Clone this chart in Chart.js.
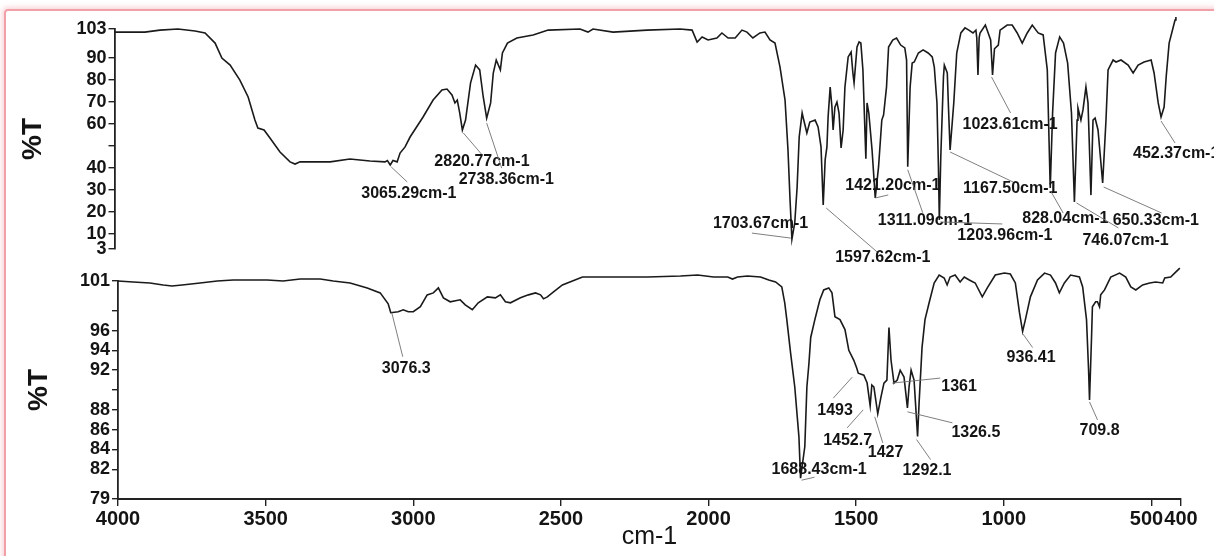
<!DOCTYPE html>
<html>
<head>
<meta charset="utf-8">
<script src="https://cdn.jsdelivr.net/npm/chart.js@4.4.1/dist/chart.umd.min.js"></script>
<style>
  html, body { margin: 0; padding: 0; background: #fff; }
  #page { position: relative; width: 1214px; height: 556px; overflow: hidden; background: #fff; }
  #frame { position: absolute; left: 4px; top: 9px; width: 1224px; height: 570px;
           border: 2px solid #f2a0a7; border-radius: 4px;
           box-shadow: 0 0 5px 2px rgba(240, 160, 170, 0.45); }
  #topChart { position: absolute; left: 0; top: 0; width: 1214px; height: 262px; }
  #bottomChart { position: absolute; left: 0; top: 262px; width: 1214px; height: 294px; }
</style>
</head>
<body>
<div id="page">
  <div id="frame"></div>
  <canvas id="topChart" width="1214" height="262"></canvas>
  <canvas id="bottomChart" width="1214" height="294"></canvas>
</div>
<script>
// ---- upper spectrum (wavenumber in cm-1, transmittance in %T) ----
const topWavenumber = [
  4000, 3897, 3846, 3785, 3727, 3693, 3659, 3636, 3608, 3575, 3547, 3524, 3514, 3493, 3473, 3439,
  3405, 3388, 3371, 3269, 3202, 3134, 3083, 3075, 3065.29, 3056, 3042, 3032, 3015, 2998, 2954, 2920,
  2890, 2873, 2856, 2846, 2838, 2830, 2820.77, 2810, 2793, 2776, 2762, 2750, 2738.36, 2725, 2716, 2706,
  2692, 2685, 2668, 2636, 2581, 2530, 2422, 2395, 2378, 2310, 2195, 2083, 2042, 2025, 2008, 1988,
  1958, 1941, 1920, 1896, 1873, 1856, 1836, 1812, 1795, 1778, 1761, 1744, 1727, 1717, 1710, 1703.67,
  1694, 1686, 1679, 1669, 1666, 1653, 1643, 1625, 1615, 1605, 1597.62, 1591, 1585, 1581, 1574, 1568,
  1564, 1558, 1551, 1544, 1537, 1530, 1524, 1513, 1503, 1497, 1493, 1483, 1476, 1470, 1463, 1453,
  1449, 1443, 1432, 1421.2, 1410, 1399, 1393, 1383, 1376, 1362, 1349, 1335, 1321, 1315, 1311.09, 1303,
  1296, 1289, 1275, 1259, 1242, 1228, 1221, 1212, 1207, 1203.96, 1199, 1190, 1187, 1177, 1173, 1167.5,
  1155, 1145, 1131, 1117, 1104, 1090, 1080, 1077, 1073, 1069, 1066, 1048, 1030, 1023.61, 1017, 1004,
  998, 974, 957, 940, 923, 906, 889, 869, 852, 838, 828.04, 820, 810, 796, 783, 769,
  756, 746.07, 737, 734, 724, 717, 707, 700, 690, 683, 676, 666, 650.33, 639, 632, 615,
  605, 588, 564, 547, 530, 510, 486, 476, 462, 452.37, 442, 435, 425, 411, 405, 402
];
const topTransmittance = [
  101.6, 101.6, 102.5, 103, 102.1, 101.2, 96.6, 89.8, 86.6, 79.8, 72.1, 61.6, 58.0, 57.1, 53.5, 47.1,
  42.6, 41.6, 42.6, 42.6, 43.9, 43.0, 42.6, 43.2, 41.2, 43.2, 42.6, 46.6, 49.4, 53.9, 63, 70.7,
  75.3, 75.7, 73, 69.4, 70.7, 65, 57.1, 61.6, 78.5, 86.6, 84.4, 72.1, 62.5, 69.4, 83, 88.9,
  84.4, 92.1, 96.6, 98.9, 100.3, 102.5, 103, 101.6, 103, 101.6, 102.5, 103, 102.5, 97.1, 99.4, 98,
  98.9, 101.2, 98.9, 98.9, 102.5, 101.6, 98.9, 101.2, 101.6, 98, 96.6, 85.7, 70.7, 48, 25.3, 7.5,
  15, 31.2, 53.9, 64.8, 63, 55.7, 60.7, 61.6, 58.5, 49.4, 23, 43.5, 49.4, 63, 76.6, 67.5,
  57.1, 67.5, 69.8, 64.8, 48.9, 57.1, 76.6, 90.3, 92.5, 83, 78.5, 94.8, 97.1, 96.6, 84.4, 44,
  69.4, 64.8, 48, 26.2, 40.3, 61.6, 63.9, 76.6, 94.8, 98, 98.9, 95.7, 94.4, 88.9, 40.4, 76.6,
  87.5, 88, 92.1, 93.5, 92.1, 90.3, 85.7, 69.4, 40, 16.2, 45, 81.2, 86.6, 83, 67.5, 48,
  69.4, 92.1, 101.2, 103.5, 102.5, 101.2, 102.5, 99, 82.1, 99, 101.2, 104.8, 98, 82.1, 94, 95.7,
  102.5, 104.8, 104.8, 101.2, 96.6, 101.2, 104.8, 101.2, 100.3, 84.4, 30.7, 64.8, 92.1, 99.4, 96.6, 87.5,
  64.8, 24.4, 61.6, 67.1, 61.6, 66.2, 76.6, 69.4, 27.5, 61.6, 62.5, 57.1, 33, 61.6, 84.4, 88.9,
  88, 88.9, 86.6, 83, 86.6, 88, 88.9, 83, 69.4, 63, 67.5, 81.2, 96.6, 103.9, 107.1, 108.5
];
const topTickValues = [103, 90, 80, 70, 60, 50, 40, 30, 20, 10, 3];
const topTickLabels = ['103', '90', '80', '70', '60', '', '40', '30', '20', '10', '3'];
const topPeakWavenumbers = [3065.29, 2820.77, 2738.36, 1703.67, 1597.62, 1421.2, 1311.09,
                            1203.96, 1167.5, 1023.61, 828.04, 746.07, 650.33, 452.37];
const topPeakTexts = ['3065.29cm-1', '2820.77cm-1', '2738.36cm-1', '1703.67cm-1', '1597.62cm-1',
                      '1421.20cm-1', '1311.09cm-1', '1203.96cm-1', '1167.50cm-1', '1023.61cm-1',
                      '828.04cm-1', '746.07cm-1', '650.33cm-1', '452.37cm-1'];

// ---- lower spectrum ----
const bottomWavenumber = [
  4000, 3949, 3892, 3847, 3817, 3783, 3722, 3664, 3610, 3495, 3441, 3383, 3315, 3271, 3214, 3156,
  3112, 3085, 3076.3, 3051, 3034, 3017, 3000, 2976, 2953, 2932, 2915, 2898, 2875, 2841, 2824, 2800,
  2780, 2749, 2722, 2705, 2688, 2671, 2637, 2610, 2586, 2569, 2559, 2546, 2525, 2495, 2461, 2427,
  2322, 2207, 2095, 2037, 1983, 1935, 1919, 1902, 1868, 1824, 1796, 1773, 1752, 1742, 1735, 1722,
  1708, 1694, 1688.43, 1674, 1667, 1660, 1654, 1640, 1623, 1610, 1593, 1582, 1572, 1555, 1538, 1525,
  1508, 1498, 1493, 1474, 1463, 1452.7, 1447, 1440, 1427, 1416, 1406, 1396, 1389, 1382, 1372, 1361,
  1351, 1338, 1326.5, 1321, 1314, 1304, 1292.1, 1287, 1277, 1267, 1253, 1236, 1219, 1202, 1192, 1182,
  1165, 1148, 1134, 1117, 1097, 1073, 1056, 1029, 998, 978, 961, 947, 936.41, 927, 910, 886,
  862, 842, 825, 812, 795, 774, 744, 733, 720, 713, 709.8, 703, 700, 689, 683, 676,
  672, 659, 638, 608, 587, 570, 553, 530, 506, 486, 462, 455, 435, 418, 404
];
const bottomTransmittance = [
  101.0, 100.9, 100.8, 100.6, 100.5, 100.6, 100.8, 101.0, 101.1, 101.1, 101.0, 101.2, 101.2, 101.0, 100.8, 100.3,
  99.8, 98.7, 97.8, 97.9, 98.1, 97.9, 97.9, 98.4, 99.6, 99.8, 100.3, 99.3, 98.9, 99.1, 98.6, 98.1,
  98.8, 99.4, 99.3, 99.6, 98.9, 98.8, 99.3, 99.6, 99.8, 99.6, 99.2, 99.4, 99.9, 100.6, 101, 101.4,
  101.4, 101.4, 101.5, 101.6, 101.4, 101.4, 101.2, 101.4, 101.5, 101.4, 101.1, 100.9, 100.4, 98.8, 97.1, 93.7,
  90.3, 85.3, 81.1, 84.3, 90.3, 92.7, 95.3, 97.1, 99.1, 100.1, 100.3, 99.8, 97.4, 97.1, 96.1, 94,
  93, 92.2, 91.7, 91.5, 90.7, 88.4, 90.5, 90.3, 87.6, 89.3, 90.7, 91, 96.3, 93, 90.7, 91,
  92, 91.3, 88.2, 90.3, 92, 91, 85.3, 88.7, 94.3, 97.1, 98.8, 100.8, 101.6, 101.3, 100.6, 101.4,
  101.6, 100.9, 101.4, 101.1, 100.8, 99.4, 100.3, 101.6, 101.8, 101.7, 100.8, 97.8, 95.9, 97.1, 99.4, 101.1,
  101.8, 101.6, 100.8, 99.8, 100.8, 101.6, 101.4, 100.4, 97.1, 92, 89, 95.3, 98.4, 98.9, 98.9, 98.4,
  99.6, 100.1, 101.4, 101.8, 101.4, 100.4, 100.1, 100.6, 100.8, 100.9, 100.8, 101.3, 101.4, 101.9, 102.3
];
const bottomTickValues = [101, 98, 96, 94, 92, 90, 88, 86, 84, 82, 79];
const bottomTickLabels = ['101', '', '96', '94', '92', '', '88', '86', '84', '82', '79'];
const xTickValues = [4000, 3500, 3000, 2500, 2000, 1500, 1000, 500, 400];
const xTickLabels = ['4000', '3500', '3000', '2500', '2000', '1500', '1000', '500\u2002', '400'];
const bottomPeakWavenumbers = [3076.3, 1688.43, 1493, 1452.7, 1427, 1361, 1326.5, 1292.1, 936.41, 709.8];
const bottomPeakTexts = ['3076.3', '1688.43cm-1', '1493', '1452.7', '1427', '1361', '1326.5',
                         '1292.1', '936.41', '709.8'];

// leader-line and label placement, in pixels relative to each peak
const topLabelLayout = [
  { from: [1, 2],  to: [17, 17], text: [-29, 29] },
  { from: [1, 3],  to: [19, 24], text: [-28, 32] },
  { from: [0, 5],  to: [15, 50], text: [-28, 61] },
  { from: [-1, -1], to: [-40, -6], text: [-79, -16] },
  { from: [3, 3],  to: [54, 47], text: [12, 53] },
  { from: [0, 0],  to: [13, -3], text: [-30, -12] },
  { from: [0, 3],  to: [15, 46], text: [-30, 54] },
  { from: [1, 2],  to: [63, 4],  text: [18, 16] },
  { from: [0, 2],  to: [63, 32], text: [13, 39] },
  { from: [-1, 2], to: [18, 38], text: [-30, 50] },
  { from: [1, 4],  to: [13, 25], text: [-28, 31] },
  { from: [2, 1],  to: [44, 26], text: [8, 39] },
  { from: [1, 4],  to: [59, 30], text: [10, 38] },
  { from: [0, 4],  to: [14, 26], text: [-28, 37] }
];
const bottomLabelLayout = [
  { from: [1, 0],  to: [12, 44], text: [-9, 56] },
  { from: [1, 2],  to: [14, -1], text: [-29, -9] },
  { from: [-6, 4], to: [-25, 25], text: [-41, 37] },
  { from: [-7, 4], to: [-23, 22], text: [-47, 35] },
  { from: [-3, 3], to: [5, 29],  text: [-10, 39] },
  { from: [-5, 3], to: [43, -2], text: [44, 7] },
  { from: [0, 4],  to: [45, 15], text: [44, 25] },
  { from: [-1, 3], to: [13, 23], text: [-15, 34] },
  { from: [0, 2],  to: [10, 16], text: [-16, 26] },
  { from: [0, 2],  to: [8, 20],  text: [-10, 31] }
];

const FONT = '"Liberation Sans", Arial, Helvetica, sans-serif';
const INK = '#141414';

function toPoints(xs, ys) {
  return xs.map((x, i) => ({ x: x, y: ys[i] }));
}

// draws peak labels with thin leader lines, anchored on the plotted spectrum
const peakLabels = {
  id: 'peakLabels',
  afterDatasetsDraw(chart, args, opts) {
    const { ctx } = chart;
    const xs = chart.scales.x, ys = chart.scales.y;
    const pts = chart.data.datasets[0].data;
    ctx.save();
    ctx.font = 'bold 16px ' + FONT;
    ctx.fillStyle = INK;
    ctx.textBaseline = 'middle';
    ctx.textAlign = 'left';
    ctx.strokeStyle = '#707070';
    ctx.lineWidth = 0.9;
    opts.wavenumbers.forEach((w, i) => {
      const p = pts.find(d => d.x === w);
      const px = xs.getPixelForValue(w);
      const py = ys.getPixelForValue(p.y);
      const L = opts.layout[i];
      ctx.beginPath();
      ctx.moveTo(px + L.from[0], py + L.from[1]);
      ctx.lineTo(px + L.to[0], py + L.to[1]);
      ctx.stroke();
      ctx.fillText(opts.texts[i], px + L.text[0], py + L.text[1]);
    });
    ctx.restore();
  }
};

function spectrumDataset(xs, ys) {
  return {
    data: toPoints(xs, ys),
    borderColor: '#1a1a1a',
    borderWidth: 1.6,
    pointRadius: 0,
    tension: 0,
    clip: false
  };
}

function yAxis(min, max, values, labels, width, titlePad) {
  return {
    type: 'linear',
    min: min,
    max: max,
    afterFit(s) { s.width = width; },
    afterBuildTicks(s) { s.ticks = values.map(v => ({ value: v })); },
    ticks: {
      autoSkip: false,
      padding: 2,
      color: INK,
      font: { family: FONT, size: 18, weight: 'bold' },
      callback: (v) => labels[values.indexOf(v)]
    },
    grid: { drawOnChartArea: false, drawTicks: true, tickLength: 6, color: '#222', lineWidth: 1.4 },
    border: { display: true, color: '#222', width: 1.8 },
    title: {
      display: true,
      text: '%T',
      color: INK,
      font: { family: FONT, size: 28, weight: 'bold' },
      padding: { top: titlePad, bottom: 0 }
    }
  };
}

const common = {
  responsive: false,
  animation: false,
  devicePixelRatio: 1,
  events: []
};

new Chart(document.getElementById('topChart'), {
  type: 'line',
  data: { datasets: [spectrumDataset(topWavenumber, topTransmittance)] },
  plugins: [peakLabels],
  options: Object.assign({}, common, {
    layout: { padding: { top: 29, bottom: 13, left: 0, right: 37.5 } },
    plugins: {
      legend: { display: false },
      tooltip: { enabled: false },
      peakLabels: { wavenumbers: topPeakWavenumbers, texts: topPeakTexts, layout: topLabelLayout }
    },
    scales: {
      x: { type: 'linear', reverse: true, min: 400, max: 4000, display: false },
      y: yAxis(3, 103, topTickValues, topTickLabels, 114.5, 16)
    }
  })
});

new Chart(document.getElementById('bottomChart'), {
  type: 'line',
  data: { datasets: [spectrumDataset(bottomWavenumber, bottomTransmittance)] },
  plugins: [peakLabels],
  options: Object.assign({}, common, {
    layout: { padding: { top: 19, bottom: 0, left: 0, right: 33 } },
    plugins: {
      legend: { display: false },
      tooltip: { enabled: false },
      peakLabels: { wavenumbers: bottomPeakWavenumbers, texts: bottomPeakTexts, layout: bottomLabelLayout }
    },
    scales: {
      x: {
        type: 'linear',
        reverse: true,
        min: 400,
        max: 4000,
        afterFit(s) { s.height = 57; },
        afterBuildTicks(s) { s.ticks = xTickValues.map(v => ({ value: v })); },
        ticks: {
          autoSkip: false,
          maxRotation: 0,
          minRotation: 0,
          padding: 1,
          color: INK,
          font: { family: FONT, size: 20, weight: 'bold' },
          callback: (v) => xTickLabels[xTickValues.indexOf(v)]
        },
        grid: { drawOnChartArea: false, drawTicks: true, tickLength: 7, color: '#222', lineWidth: 1.4 },
        border: { display: true, color: '#222', width: 2 },
        title: {
          display: true,
          text: 'cm-1',
          color: INK,
          font: { family: FONT, size: 25 },
          padding: { top: 0, bottom: 4 }
        }
      },
      y: yAxis(79, 101, bottomTickValues, bottomTickLabels, 118, 22)
    }
  })
});
</script>
</body>
</html>
